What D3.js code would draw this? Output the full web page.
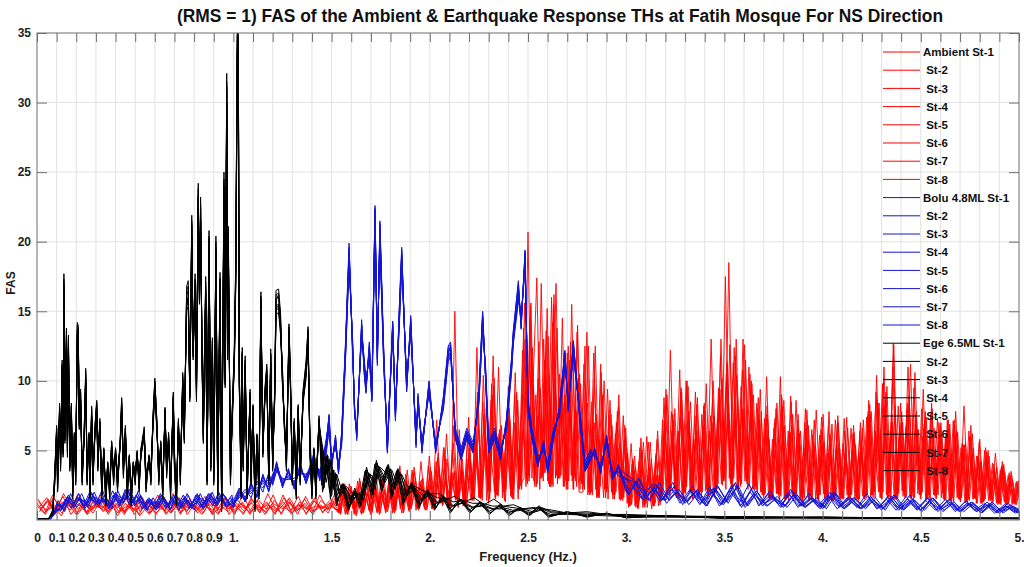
<!DOCTYPE html>
<html>
<head>
<meta charset="utf-8">
<style>
  body { margin: 0; background: #fff; }
  text { font-family: "Liberation Sans", Arial, sans-serif; font-weight: bold; }
  .grid line { stroke: #e2e2e2; stroke-width: 1; }
  .axis line, .axis path { stroke: #6e6e6e; }
  .axis text { fill: #1e1e1e; font-size: 12px; }
</style>
<script src="https://d3js.org/d3.v7.min.js"></script>
</head>
<body>
<svg id="chart" width="1024" height="567"></svg>
<script>
// ---- Ambient (red): 38 values every 0.04 Hz up to 1.48 Hz, then every 0.02 Hz from 1.52 to 5.0 Hz;
// each station is sampled with a small frequency shift
var ambientShift = [0, 0.01, 0.005, 0.015, 0.0025, 0.0125, 0.0075, 0.0175];
var ambient1 = [1.2,0.5,1.8,0.7,1.1,0.4,1.5,0.8,1.3,0.5,1.9,0.6,1.0,0.4,1.4,0.9,1.2,0.5,1.6,0.7,1.1,0.4,1.3,0.8,1.7,0.5,1.0,0.6,1.4,0.4,1.2,0.9,1.5,0.6,1.1,0.5,1.8,0.7,
  2,0.5,1.6,0.4,2.4,0.7,1.8,0.5,3,0.8,2.2,0.6,2.8,0.9,1.9,0.5,3.4,1,2.4,0.7,3.8,0.9,2.6,1.1,3.2,
  1,4.5,1.2,3.2,0.8,5.5,1.4,3.6,1,4.8, 1.5,12.4,1.8,6,1.2,7.5,2,5.2,1.4,9.6,1.8,6.4,
  2.5,3,20.7,3,9,2.2,13,2.8,16,3,10.5,2.4,12,3.2,8,2, 2,13.5,2.4,7,1.8,9,2,6,1.5,8.1,1.6, 4.5,1,3.5,0.8,5,1.2,3.8,1,6.4,
  1.5,8.3,2,5.5,1.6,9.5,2.2,7,1.5,8.3,2,6,1.8,8.7, 2,11.7,3,9,2.4,13,2.8,8,2.2,9.8,2.6,6.5,
  1.6,7.3,1.8,5,1.4,6.5,2,8.5,1.6,5.5,1.5,7.9,2,4.8,1.4,6.3,1.8,5,1.5,7,1.7,4.6,1.4,6.3,2,5.2,
  1.6,8.3,2,6,1.5,8.6,2.2,12.7,1.8,7,1.6,9,2,6.5,1.5,7.2,1.9,5.5,1.6,6.8, 1.5,7.2,1.8,5,1.4,8.2,1.6,4.6,1.5,5.8,1.3,4.2,1.6,4.8,1.2,3.6,1.4,3.5,1.1,2.9];
var ambient2 = [0.9,1.6,0.4,1.3,0.7,1.9,0.5,1.1,0.8,1.5,0.3,1.2,0.6,1.7,0.5,1.0,0.7,1.4,0.4,1.8,0.6,1.2,0.5,1.5,0.8,1.1,0.4,1.6,0.7,1.3,0.5,1.0,0.6,1.7,0.4,1.4,0.8,1.2,
  0.6,1.8,0.4,2.6,0.8,1.5,0.5,2.2,0.7,3.2,0.6,2,0.9,2.6,0.5,3,0.8,2.2,1,3.6,0.7,2.8,1,2.4,0.8,
  3.6,1.2,5.2,0.9,3,1.5,6.5,1,3.8,1.4, 5.8,1.6,8.5,1.4,5,2,11,1.6,6.2,2.2,7,1.5,
  9,2.4,14.5,2.8,7.5,3,12,2.4,15.5,2.6,9,3,11.5,2.2,13.5,2.8, 12.5,2,7.2,1.6,11.2,2.2,5.5,1.8,7,1.4,5.8, 1.2,4,0.9,5.2,1.1,3.2,0.8,4.6,1.3,
  6,1.8,7.8,2.2,6.2,1.5,10,2,7.5,1.7,6.5,2.2,7.5,1.6, 9.5,2.5,10.5,2.8,12.4,2.2,8,3,10.5,2.4,8,2,
  6.8,1.5,5.2,1.9,9,1.4,6,1.8,5.5,1.6,7,1.5,6.1,2,4.5,1.6,6.8,1.4,5.4,1.8,7.3,1.5,5,1.7,6.4,1.6,
  7.5,1.8,6.4,2.1,9.9,1.6,7,2,6,1.7,8,1.5,10.6,2.2,6,1.6,7.6,1.8,5.6,2, 6.2,1.4,7.2,1.7,5.5,1.3,6,1.5,4.6,1.2,5.2,1.6,4,1.3,3.8,1.1,3.4,1.2,2.8,1.3];
var ambient3 = [1.5,0.6,1.0,0.3,1.7,0.8,1.2,0.5,1.4,0.7,1.1,0.4,1.8,0.6,1.3,0.5,1.0,0.8,1.6,0.4,1.2,0.7,1.9,0.5,1.1,0.6,1.3,0.4,1.5,0.8,1.0,0.5,1.6,0.7,1.2,0.4,1.4,0.9,
  1.4,0.4,2.2,0.6,1.6,0.3,2.8,0.7,1.9,0.5,2.4,0.8,3.2,0.6,2,0.9,2.6,0.5,3.6,0.8,2.2,1,3,0.7,2.6,
  0.8,3.8,1,6.2,1.3,3.5,0.9,4.4,1.2,3.2, 1.4,7.8,2,5.5,1.5,9.6,1.8,6.8,1.3,8,2.2,5.4,
  2.4,13,2.8,9.5,17.4,3,11.5,2.6,14.2,3.2,9.5,2.4,12.5,2.8,7.8,2.2, 11.2,1.8,8.5,2.2,5.8,1.6,9.4,2,6.2,1.5,7.5, 1.2,5.5,1,4.2,0.9,6,1.3,3.5,1,
  7.2,1.6,12.2,2.2,6.4,1.8,10,2,5.8,1.5,7.6,2.1,6.4,1.7, 7.3,2.6,17.5,3,11.3,2.4,9.6,2.8,11,2.2,8.4,2,
  7.3,1.6,5.8,1.9,10.3,1.5,6.4,1.8,8.6,1.4,5.2,1.7,6.5,1.5,6.1,1.9,4.8,1.4,7.2,1.6,5.5,1.8,6.6,1.5,4.9,1.7,
  7.4,1.6,5.6,2,9.8,1.8,6.4,1.5,8.2,2.1,6.7,1.6,9.5,1.9,8,1.5,6.2,1.8,7.3,1.6, 5.9,1.4,7.1,1.6,5.2,1.3,6.4,1.5,4.6,1.2,5,1.4,4.1,1.2,3.6,1.3,3.2,1.1,2.7,1.2];
var ambient4 = [0.7,1.4,0.5,1.9,0.8,1.2,0.4,1.6,0.6,1.0,0.9,1.5,0.4,1.3,0.7,1.8,0.5,1.1,0.6,1.4,0.8,1.7,0.4,1.0,0.6,1.5,0.9,1.2,0.5,1.9,0.7,1.3,0.4,1.1,0.8,1.6,0.5,1.3,
  0.5,2.6,0.7,1.8,0.4,2.4,0.8,1.6,0.6,2.9,0.9,2.1,0.5,3.4,0.8,2.4,1,2.8,0.6,3.2,0.9,4.2,1.1,2.6,0.8,
  7.2,1.4,3.8,1,5,1.6,3.4,1.2,4.4,1.5, 5.2,1.6,7.4,2,9.8,1.5,6.5,2.2,8,1.8,10.6,2.4,
  6.5,2.8,15.6,2.4,12.8,3.2,9.4,2.6,11.5,3,14.5,2.2,8.8,3,10.2,2.6, 6.4,1.8,12,2.2,8.8,1.6,5.5,2,7.8,1.5,6, 1,3.6,1.2,5.9,0.9,4,1.1,3.2,1.4,
  7,2,6.2,1.6,7.4,2.4,9.6,1.8,6.5,2.1,8.2,1.5,7,2, 8.4,2.8,11.2,2.4,7.2,3,13,2.6,9,2.2,7.6,1.8,
  10.3,1.6,7,1.8,8.2,1.5,6.3,2,7.6,1.4,6.6,1.7,5.1,1.5,7.4,1.8,5.6,1.4,6.9,1.6,4.8,1.9,6.2,1.5,5.5,1.7,
  8.6,1.8,10.4,1.6,8.2,2.2,7,1.5,6.2,1.9,11,1.7,7.6,2,6.6,1.6,8.4,1.8,6,1.5, 7.2,1.5,6.1,1.7,5,1.4,6.8,1.6,4.4,1.3,4.9,1.5,3.8,1.2,4.2,1.3,3.1,1.2,2.6,1.1];
var ambient5 = [1.0,0.4,1.6,0.9,1.3,0.5,1.1,0.7,1.8,0.4,1.2,0.6,1.5,0.3,1.0,0.8,1.7,0.5,1.3,0.6,1.4,0.9,1.1,0.4,1.6,0.7,1.2,0.5,1.0,0.6,1.8,0.4,1.3,0.7,1.5,0.6,1.1,0.5,
  1.7,0.6,2.5,0.4,1.4,0.8,3,0.5,2,0.7,2.6,0.4,1.8,0.9,3.2,0.6,2.3,0.8,2.9,1,3.5,0.7,2.4,1.2,3.8,
  1.1,4.8,1.3,2.8,1.6,6.8,1,3.9,1.4,5.2, 1.9,9.2,1.6,6.6,2.4,11.8,1.8,5.8,2,7.4,1.5,9.2,
  2.8,15.6,3.2,12.4,2.4,9.5,3.4,13.2,2.6,17,3,12,2.2,15.5,2.8,10.5, 2.5,8.4,2,12.5,1.6,6.2,2.2,7.6,1.8,9,1.4, 5.2,1.2,4.6,0.9,3.6,1.4,5.6,1,4.2,
  2,9.4,1.7,7.2,2.4,9.2,1.9,6.8,2.2,8.8,1.6,7.8,2,10, 2.4,13,3.2,18.5,2.8,10.4,2.4,12.6,3,7.8,2.2,9.4,
  1.8,6.5,1.5,8,1.9,8.6,1.6,6.8,1.4,6.2,2,7.1,1.5,5.4,1.8,7.6,1.4,6,1.7,5.2,1.5,7.4,1.9,5.8,1.4,6.6,
  1.7,7.6,2,8.4,1.5,9.2,1.9,12.6,1.6,7.8,2.2,8.2,1.5,6.4,1.8,7.8,1.6,6.2,1.9,7, 1.4,6.6,1.6,6.4,1.3,5.4,1.5,6.2,1.2,4.2,1.4,5,1.3,3.1,1.2,4,1.1,3.2,1.2,2.4];
var ambient6 = [0.6,1.3,0.8,1.7,0.4,1.1,0.6,1.5,0.9,1.2,0.5,1.6,0.7,1.0,0.4,1.4,0.6,1.9,0.5,1.1,0.7,1.3,0.4,1.7,0.8,1.0,0.5,1.5,0.6,1.2,0.4,1.8,0.7,1.1,0.5,1.4,0.6,1.0,
  0.7,2.2,0.5,1.5,0.8,2.8,0.4,2,0.7,1.7,0.5,3,0.8,2.4,0.6,2.9,0.9,2,0.7,3.4,1.1,2.6,0.8,3.9,1,
  4.2,1.2,5.2,1,3.2,1.4,4,1.1,6,1.6, 7,1.8,10.4,2.2,8.6,1.6,6.2,2,7.5,1.7,9,2.3,
  12.2,3,15.4,2.6,10.2,3.2,13.6,2.4,16.2,3,9.6,2.8,11,2.2,14,2.6, 9.8,2,6.6,1.7,10.6,2.3,7.5,1.5,5.4,1.8,6.8, 0.9,4.4,1.2,3.6,1,5.6,1.3,4.8,1.1,
  8.8,1.9,6.4,2.2,10.8,1.6,7,2,9.2,1.8,6.8,2.4,13,2, 9.2,3,11.4,2.6,8.3,2.2,10.8,2.8,7.4,2.4,8.8,1.8,
  7.6,1.5,6.6,1.9,8.8,1.6,6.3,1.4,7.2,1.8,8,1.5,5.6,1.7,6.5,1.4,7.8,1.9,5.4,1.5,6.4,1.7,5.2,1.6,7,1.5,
  7.8,2,9.2,1.6,11,1.9,7.6,1.5,6.8,2.1,8.4,1.6,7.2,1.8,9.4,1.5,6.4,1.7,7,1.9, 5.8,1.4,6.8,1.5,5.1,1.3,6,1.6,4.4,1.2,4.6,1.4,3.6,1.1,3.9,1.3,3,1.2,2.5,1.3];
var ambient7 = [1.3,0.7,1.1,0.5,1.6,0.4,1.2,0.9,1.0,0.6,1.7,0.5,1.3,0.8,1.1,0.4,1.5,0.6,1.2,0.9,1.0,0.5,1.6,0.7,1.3,0.4,1.9,0.6,1.1,0.5,1.4,0.8,1.2,0.4,1.7,0.6,1.0,0.8,
  1.3,0.5,2.6,0.7,2,0.4,1.6,0.8,2.7,0.6,3.1,0.5,2.2,0.9,2.6,0.7,3.9,0.6,2.4,1,3,0.8,2.2,0.9,3.5,
  1,3.6,1.1,4.4,0.9,15,1.3,3.4,1.1,4.2, 1.6,6.8,1.4,8,2,10.2,1.7,5.5,2.2,7.2,1.5,8.6,
  2.2,11,3,9.6,2.6,17,3.4,10.5,2.4,13.8,3.2,9,2.8,12.6,2.4,9.8, 2.2,12.5,1.8,7.6,2.4,10,1.5,6.8,2,5.6,1.6, 4.8,1.1,3.8,1.4,5.6,0.9,4.4,1.2,3.2,
  1.8,9,2.2,8,1.6,7.2,2.4,8.5,1.7,6.6,2,9.8,1.8,7.5, 2.6,10.2,2.2,12.6,3,8.8,2.6,11.5,2.4,9,2,7.8,
  1.9,5.8,1.5,8.4,1.7,6.8,1.4,7.6,1.9,6.4,1.6,6.8,1.5,7.9,1.8,5.6,1.4,6.9,1.7,5.1,1.5,6.6,1.8,5.4,1.5,7.2,
  1.8,7.8,1.6,8.4,2,9.6,1.5,8.2,1.9,7,1.7,11.2,1.6,6.5,2,7.4,1.5,6.6,1.8,6.2, 1.5,6.9,1.3,6.3,1.6,5.6,1.4,5.2,1.2,4.2,1.5,4.6,1.3,3.8,1.1,3.4,1.2,2.9,1.1,2.6];
var ambient8 = [0.8,1.5,0.5,1.2,0.9,1.7,0.4,1.1,0.7,1.4,0.6,1.0,0.8,1.6,0.5,1.3,0.4,1.2,0.9,1.5,0.5,1.0,0.7,1.8,0.4,1.2,0.6,1.4,0.8,1.1,0.6,1.6,0.5,1.3,0.7,1.0,0.9,1.5,
  0.6,1.9,0.8,2.4,0.5,1.6,0.7,3.1,0.4,2.3,0.9,1.8,0.6,3,0.8,2.1,0.5,3.3,1,2.5,0.8,2.9,0.7,4.6,1.1,
  2.8,1.3,4.6,1,3.4,1.5,5.2,1.2,7.4,1.4, 5.6,1.5,7.6,2.1,9,1.8,6,2.4,8.2,1.6,6.8,2.2,
  13.8,2.6,11.6,3.2,8.5,2.8,15.2,2.4,10.2,3,8.4,2.6,12.8,3.2,9.2,2.2, 7.4,1.9,10.2,1.6,6.4,2.2,8.6,1.8,5.2,1.5,6.6, 1.3,4.2,0.9,4.8,1.2,3.4,1,5.8,1.4,
  6.6,2.2,7.6,1.7,9.2,2,7.8,1.5,6.4,2.3,8.4,1.8,7,2.1, 9.4,2.8,7.6,2.2,11.8,3,6.8,2.6,10,2.4,7.2,2,
  8.2,1.6,7.3,1.9,6.8,1.5,8.9,1.7,6.6,1.4,6,1.8,7.2,1.5,5.4,1.9,6.2,1.4,7.5,1.6,5,1.7,6.8,1.5,5.6,1.8,
  7.2,1.6,8.6,2,6.8,1.5,11,1.9,8.4,1.7,6.6,2.2,7.8,1.6,6.9,1.8,8,1.5,6.4,1.9, 6.4,1.3,7.8,1.5,5.4,1.2,4.6,1.6,5.6,1.3,4.2,1.4,3.4,1.2,3.8,1.1,2.8,1.3,2.3,1.2];
var ambientFreq = d3.range(38).map(function(i) { return i * 0.04; })
  .concat(d3.range(175).map(function(j) { return 1.52 + j * 0.02; }));

// ---- Bolu 4.8ML (blue): shared frequency points; the noisy bands (0.1-1 Hz, 3-5 Hz) use per-station shifts
var boluShiftLow = [0, 0.015, 0.0075, 0.0225, 0.004, 0.019, 0.011, 0.026];
var boluShiftHigh = [0, 0.025, 0.0125, 0.0375, 0.006, 0.031, 0.019, 0.044];
var boluFreq = [0,0.07,0.09,0.1,0.13,0.16,0.19,0.22,0.25,0.28,0.31,0.34,0.37,0.4,0.43,0.46,0.49,0.52,0.55,0.58,0.61,0.64,0.67,0.7,0.73,0.76,0.79,0.82,0.85,0.88,0.91,0.94,0.97,1.0,
  1.03,1.06,1.09,1.12,1.15,1.18,1.2,1.22,1.25,1.28,1.31,1.34,1.37,1.41,1.44,1.47,1.487,1.5,1.52,1.535,1.551,
  1.57,1.589,1.607,1.617,1.628,1.653,1.665,1.675,1.692,1.705,1.721,1.733,1.746,1.765,1.784,1.811,1.825,1.845,1.857,1.882,1.903,1.93,1.94,1.96,1.996,2.03,2.069,2.094,2.106,2.13,2.16,2.188,2.22,2.25,2.269,2.285,2.3,2.33,2.36,2.39,2.417,2.425,2.451,2.465,2.485,2.5,2.52,2.55,2.58,2.6,2.63,2.66,2.688,2.705,2.731,2.765,2.79,2.82,2.84,2.87,2.9,2.93,2.96,
  3.0,3.05,3.1,3.15,3.2,3.25,3.3,3.35,3.4,3.45,3.5,3.55,3.6,3.65,3.7,3.75,3.8,3.85,3.9,3.95,4.0,4.05,4.1,4.15,4.2,4.25,4.3,4.35,4.4,4.45,4.5,4.55,4.6,4.65,4.7,4.75,4.8,4.85,4.9,4.95,5.0];
var bolu1 = [0.1,0.1,0.6,1.2,0.8,1.8,1.0,1.6,1.1,1.9,1.2,1.5,0.9,2.0,1.3,2.3,1.2,1.6,0.8,1.5,1.0,1.4,0.9,1.7,1.0,1.5,0.8,1.8,1.1,1.9,1.2,1.7,1.3,1.0,
  2.0,1.4,2.5,1.8,3.1,2.2,3.0,4.0,2.6,3.4,2.4,3.8,2.8,4.6,3.0,5.2,7.4,4.0,5.8,3.5,6.0,
  12,19.4,12.2,8,6.0,14.0,11,9.4,12.4,9,22.3,11.5,21.1,12,5.0,14.0,7.4,15,19.2,9.5,14.3,5.5,8.8,5,9.7,5,8.6,12.2,12.5,6,4.5,6,5,9,14.7,10,5,6,4.5,7,11.5,13.3,16.8,14,19.1,8,6,4,5.5,3.5,6,8,11.9,8,12.6,7.2,3.6,4.5,5.0,3.5,5.9,3,3.8,
  2.0,2.8,1.5,2.6,1.4,2.2,1.2,2.0,1.1,2.3,1.2,2.6,1.0,1.9,1.1,1.7,0.9,1.8,1.0,1.6,0.8,1.9,0.9,1.5,0.8,1.6,0.7,1.7,0.8,1.4,0.7,1.5,0.7,1.3,0.6,1.2,0.6,1.2,0.5,1.0,0.6];
var bolu2 = [0.1,0.1,0.5,0.8,1.5,0.9,1.7,1.0,1.9,1.1,1.6,1.0,2.1,1.2,1.9,1.0,1.8,0.8,1.5,0.9,1.7,0.8,1.6,1.0,1.8,0.8,1.5,0.9,1.7,1.0,2.0,1.1,1.6,1.2,
  1.7,2.2,1.6,2.8,2.0,3.4,2.5,3.6,2.9,3.1,2.7,3.5,3.2,4.2,3.4,4.8,6.8,4.4,5.4,3.9,5.6,
  11.4,18.6,12.8,7.6,6.4,13.5,11.4,9.8,12.0,8.6,21.6,12.0,20.4,11.5,5.4,13.6,7.8,14.4,18.6,9.9,13.8,5.9,8.4,5.4,9.3,5.3,8.2,11.8,12.1,6.3,4.9,6.3,5.3,8.6,14.2,10.4,5.3,6.3,4.8,6.7,11.1,12.9,16.2,14.4,18.5,8.4,6.3,4.3,5.2,3.8,6.3,7.7,11.4,8.3,12.1,7.5,3.9,4.8,4.7,3.8,5.6,3.3,3.5,
  2.6,1.6,2.4,1.3,2.5,1.2,2.2,1.1,2.4,1.0,2.1,1.2,2.6,1.0,1.9,1.1,2.0,0.9,1.7,1.0,1.8,0.8,1.6,0.9,1.9,0.8,1.5,0.7,1.7,0.8,1.4,0.7,1.5,0.6,1.3,0.7,1.2,0.5,1.1,0.6,0.9];
var bolu3 = [0.1,0.1,0.7,1.4,0.7,1.5,1.1,1.9,0.9,1.7,1.4,1.3,1.0,1.8,1.5,2.0,1.0,1.8,0.7,1.3,1.2,1.6,0.7,1.9,0.9,1.3,1.0,1.6,1.3,1.7,1.0,1.9,1.1,1.2,
  2.2,1.6,2.3,2.0,2.8,2.4,3.3,3.7,2.4,3.7,2.2,4.1,2.6,4.3,3.3,5.6,7.0,3.7,6.1,3.3,6.3,
  12.5,19.9,11.8,8.3,5.7,14.4,10.6,9.1,12.8,9.3,22.0,11.1,21.5,12.4,4.8,14.3,7.1,15.4,19.6,9.2,14.7,5.2,9.1,4.8,10.0,4.8,8.9,12.5,12.8,5.8,4.3,5.8,4.8,9.3,15.0,9.7,4.8,5.8,4.3,7.3,11.8,13.6,17.2,13.7,19.4,7.8,5.8,3.8,5.7,3.4,5.8,8.2,12.2,7.8,12.9,7.0,3.5,4.3,5.2,3.3,6.1,2.9,4.0,
  1.8,3.0,1.4,2.4,1.5,2.0,1.3,2.2,1.0,2.5,1.3,2.4,1.1,2.1,1.0,1.5,1.0,2.0,0.9,1.5,0.9,2.0,0.8,1.6,0.9,1.4,0.8,1.8,0.7,1.5,0.8,1.6,0.6,1.2,0.7,1.3,0.5,1.3,0.6,0.9,0.7];
var bolu4 = [0.1,0.1,0.6,0.7,1.6,1.0,1.9,0.8,1.5,1.2,2.2,0.9,1.7,1.1,2.0,1.3,1.9,0.9,1.4,0.8,1.8,1.0,1.5,0.7,1.7,1.1,1.6,0.9,1.9,1.0,1.5,1.2,1.8,1.0,
  1.9,1.5,2.7,1.6,3.3,2.0,3.2,3.8,2.8,3.2,2.6,3.6,3.0,4.8,2.8,5.0,7.6,4.2,5.6,3.7,6.2,
  12.3,19.0,12.5,7.8,6.2,13.8,11.2,9.6,12.2,8.8,22.6,11.7,20.8,12.2,5.2,14.2,7.6,14.7,19.0,9.7,14.1,5.7,8.6,5.2,9.5,5.1,8.4,12.0,12.3,6.2,4.7,6.2,5.2,8.8,14.5,10.2,5.2,6.2,4.6,6.9,11.3,13.1,16.5,14.2,18.8,8.2,6.2,4.2,5.4,3.7,6.2,7.9,11.7,8.2,12.4,7.4,3.8,4.6,4.9,3.6,5.8,3.1,3.7,
  2.9,1.4,2.2,1.5,2.7,1.1,2.4,1.3,2.0,1.1,2.5,0.9,2.2,1.2,1.8,0.9,2.2,1.0,1.6,0.8,2.0,0.9,1.7,0.8,1.5,0.9,1.8,0.7,1.4,0.8,1.6,0.6,1.4,0.7,1.2,0.6,1.3,0.5,1.0,0.6,0.8];
var bolu5 = [0.1,0.1,0.4,1.1,0.9,1.6,1.3,1.5,1.2,1.7,1.0,1.8,1.1,1.5,1.2,1.9,1.3,1.4,1.1,1.3,0.8,1.7,1.0,1.4,0.8,1.9,1.1,1.3,0.9,1.8,1.3,1.5,1.0,1.4,
  2.3,1.3,2.4,2.1,2.9,2.6,2.8,4.2,2.3,3.6,2.5,3.9,2.7,4.4,3.2,5.4,7.2,3.8,6.0,3.4,5.8,
  11.8,19.6,12.0,8.1,5.9,14.1,10.8,9.2,12.6,9.1,22.1,11.3,21.3,11.8,4.9,14.1,7.3,15.2,19.4,9.3,14.5,5.4,8.9,5.0,9.9,4.9,8.7,12.4,12.6,5.9,4.4,5.9,4.9,9.1,14.9,9.8,4.9,5.9,4.4,7.1,11.6,13.5,17.0,13.8,19.3,7.9,5.9,3.9,5.6,3.4,5.9,8.1,12.1,7.9,12.8,7.1,3.5,4.4,5.1,3.4,6.0,2.9,3.9,
  1.9,2.7,1.7,2.5,1.2,2.1,1.3,2.1,1.0,2.2,1.3,2.7,0.9,1.8,1.2,1.6,1.0,1.9,0.9,1.5,0.9,2.0,0.8,1.6,0.9,1.5,0.8,1.6,0.7,1.5,0.6,1.6,0.8,1.2,0.6,1.3,0.5,1.2,0.6,1.1,0.6];
var bolu6 = [0.1,0.1,0.6,0.9,1.4,1.1,1.6,0.9,1.8,1.2,1.5,1.1,1.8,1.0,2.2,1.2,1.7,1.0,1.6,1.0,1.9,0.9,1.4,1.1,1.6,0.9,1.8,1.0,1.5,1.2,1.9,1.0,1.4,1.1,
  1.8,1.7,2.1,2.3,2.6,2.9,2.7,3.9,2.7,3.0,2.8,3.4,3.1,4.1,3.5,4.6,6.6,4.5,5.2,4.0,5.5,
  11.6,18.9,12.6,7.7,6.3,13.4,11.6,9.9,11.9,8.7,21.4,12.2,20.2,11.4,5.5,13.4,7.9,14.2,18.4,10.1,13.6,6.0,8.3,5.5,9.2,5.4,8.1,11.6,12.0,6.4,5.0,6.4,5.4,8.5,14.0,10.6,5.4,6.4,4.9,6.6,10.9,12.8,16.0,14.6,18.3,8.5,6.4,4.4,5.1,3.9,6.4,7.6,11.3,8.4,11.9,7.6,4.0,4.9,4.6,3.9,5.5,3.4,3.4,
  2.5,1.5,2.6,1.4,2.2,1.3,2.0,1.2,2.2,1.1,2.3,1.0,2.0,1.1,2.1,1.0,1.8,1.0,1.9,0.9,1.7,1.0,1.5,0.9,1.7,0.8,1.6,0.8,1.5,0.7,1.6,0.7,1.3,0.7,1.4,0.6,1.1,0.6,1.0,0.5,0.8];
var bolu7 = [0.1,0.1,0.5,1.2,0.6,1.9,0.9,1.4,1.0,2.0,1.1,1.6,0.8,2.1,1.2,2.2,1.1,1.7,0.7,1.6,0.9,1.5,0.8,1.6,1.1,1.4,0.7,1.9,1.0,2.0,1.1,1.8,1.2,0.9,
  2.1,1.3,2.6,1.7,3.2,2.1,3.1,4.1,2.5,3.5,2.3,3.9,2.7,4.7,2.9,5.3,7.5,3.9,5.9,3.4,6.1,
  12.2,19.2,12.3,7.9,6.1,13.9,11.1,9.5,12.3,8.9,22.4,11.6,20.9,12.1,5.1,13.9,7.5,14.9,19.1,9.6,14.2,5.6,8.7,5.1,9.6,5.0,8.5,12.1,12.4,6.1,4.6,6.1,5.1,8.9,14.6,10.1,5.1,6.1,4.5,7.0,11.4,13.2,16.6,14.1,18.9,8.1,6.1,4.1,5.5,3.6,6.1,8.0,11.8,8.1,12.5,7.3,3.7,4.5,5.0,3.5,5.8,3.0,3.8,
  2.0,2.9,1.4,2.7,1.4,2.2,1.1,2.0,1.2,2.4,1.2,2.5,1.0,2.0,1.0,1.7,0.9,1.8,1.0,1.6,0.8,1.9,0.9,1.5,0.8,1.6,0.7,1.8,0.8,1.4,0.7,1.5,0.7,1.3,0.6,1.2,0.6,1.2,0.5,1.0,0.6];
var bolu8 = [0.1,0.1,0.7,0.8,1.7,0.9,1.5,1.0,2.0,1.1,1.6,0.8,1.9,1.3,1.7,1.0,2.1,1.1,1.5,0.7,1.6,1.0,1.8,0.9,1.5,1.0,1.9,0.8,1.6,1.2,1.8,0.9,1.6,1.1,
  1.6,2.0,1.9,2.6,2.3,3.2,2.6,3.5,3.0,2.9,3.0,3.3,3.3,4.0,3.6,4.5,6.5,4.6,5.1,4.2,5.3,
  11.2,18.3,13.0,7.5,6.6,13.2,11.8,10.1,11.7,8.5,21.1,12.4,19.9,11.2,5.7,13.2,8.1,14.0,18.1,10.3,13.4,6.2,8.1,5.7,9.0,5.6,7.9,11.4,11.8,6.6,5.2,6.6,5.6,8.3,13.8,10.8,5.6,6.6,5.1,6.4,10.7,12.6,15.7,14.8,18.0,8.7,6.6,4.6,4.9,4.1,6.6,7.4,11.0,8.6,11.6,7.8,4.2,5.1,4.4,4.1,5.3,3.6,3.2,
  2.7,1.7,2.3,1.4,2.4,1.3,1.9,1.2,2.3,1.1,2.0,1.2,2.4,1.0,1.8,1.1,2.1,1.0,1.6,0.9,1.9,1.0,1.6,0.8,1.7,0.9,1.5,0.8,1.8,0.7,1.3,0.8,1.5,0.6,1.2,0.7,1.1,0.6,1.2,0.5,0.9];

// ---- Ege 6.5ML (black): shared frequency points; the noisy 1.45-2.6 Hz band uses per-station shifts
var egeShift = [0, 0.015, 0.008, 0.022, 0.004, 0.019, 0.011, 0.026];
var egeFreq = [0,0.06,0.08,0.09,0.1,0.105,0.115,0.12,0.128,0.133,0.137,0.142,0.15,0.155,0.16,0.167,0.175,0.182,0.19,0.197,
  0.205,0.21,0.215,0.222,0.23,0.24,0.248,0.255,0.265,0.27,0.278,0.285,0.295,0.304,0.31,0.32,0.33,0.34,0.35,0.36,
  0.37,0.38,0.39,0.4,0.41,0.425,0.431,0.44,0.45,0.46,0.47,0.48,0.49,0.5,0.51,0.52,0.53,0.546,0.555,0.57,
  0.58,0.59,0.6,0.61,0.62,0.63,0.64,0.652,0.66,0.67,0.68,0.694,0.7,0.71,0.72,0.73,0.742,0.75,0.762,0.77,
  0.778,0.788,0.795,0.805,0.812,0.821,0.827,0.833,0.84,0.847,0.853,0.859,0.866,0.876,0.885,0.893,0.9,0.911,0.92,0.932,
  0.94,0.952,0.958,0.966,0.97,0.974,0.985,0.995,1.005,1.012,1.02,1.025,1.03,1.04,1.045,1.05,1.06,1.07,1.085,1.09,
  1.1,1.11,1.12,1.13,1.14,1.15,1.16,1.17,1.18,1.19,1.2,1.21,1.217,1.23,1.24,1.25,1.26,1.27,1.283,1.29,
  1.3,1.31,1.32,1.33,1.34,1.355,1.37,1.38,1.39,1.4,1.41,1.42,1.436,1.45,1.47,1.49,1.5,1.52,1.55,1.58,
  1.61,1.64,1.67,1.7,1.72,1.75,1.78,1.8,1.83,1.86,1.9,1.94,1.98,2.02,2.06,2.1,2.15,2.2,2.25,2.3,
  2.35,2.4,2.45,2.5,2.55,2.6,2.7,2.8,2.9,3.0,3.2,3.5,4.0,4.5,5.0];
var ege1 = [0.1,0.1,0.6,3,6.5,2.5,8,4,11,5, 17,6,13.3,5,12.8,4,8,2,6,3, 13.7,13.5,7,9,3,6,10.5,3,6,2, 7.9,3,6.5,8.3,4,7,2,5,1.5,4,
  2,5.5,3,5,2.5,6,8.5,3.5,6.5,2, 4.5,1.5,4,3,4.8,2.5,5,6.4,2.5,4.5, 3,7,9.8,7,3,5.5,2,7.8,3.5,6, 2,8.8,4,1.5,7,3,10.2,6,16.2,16.5,
  9,21.1,12,17,9,23.3,16,22.3,12,6, 12,16.8,3,20,4,12.6,3,19.6,2,17.1, 1,24,10,30.9,12,20.3,3,8,12,18, 34.8,33.8,10,2,11.9,4,11.3,2,9,3,
  8,1,6,2,15.8,5,9,10.8,3,11.8, 4,9,15.9,16,14.3,10,6.9,4,13.6,10.4, 3,7,2,8,3,9,11,13.4,5,2, 5,2,7.2,2.5,4.5,2,3.5,1.5,2.5,1,
  2,1.2,3.5,2,4,2.5,3.8,2,3.5,1.5, 2.5,1.2,2,1,1.6,0.8,1.4,0.7,1.2,0.6, 1,0.5,0.8,0.4,0.9,0.3,0.5,0.3,0.4,0.2, 0.25,0.15,0.15,0.1,0.1];
var ege2 = [0.1,0.1,0.5,2.6,6.0,2.8,7.5,4.4,10.4,5.4, 16.2,6.4,12.8,5.4,12.2,4.4,7.6,2.4,5.6,3.4, 13.1,12.9,7.4,8.6,3.4,5.6,10.0,3.4,5.6,2.4, 7.5,3.4,6.1,7.9,4.4,6.6,2.4,4.6,1.9,3.6,
  2.4,5.1,3.4,4.6,2.9,5.6,8.1,3.9,6.1,2.4, 4.1,1.9,3.6,3.4,4.4,2.9,4.6,6.0,2.9,4.1, 3.4,6.6,9.3,6.6,3.4,5.1,2.4,7.4,3.9,5.6, 2.4,8.4,4.4,1.9,6.6,3.4,9.7,6.4,15.5,15.9,
  9.4,20.4,12.4,16.4,9.4,22.6,16.4,21.6,12.4,6.4, 11.5,16.2,3.4,19.3,4.4,12.1,3.4,18.9,2.4,16.5, 1.4,23.2,10.4,30.0,12.4,19.6,3.4,7.6,11.5,17.4, 33.8,32.9,10.4,2.4,11.4,4.4,10.8,2.4,8.6,3.4,
  7.6,1.4,5.6,2.4,15.1,5.4,8.6,10.3,3.4,11.3, 4.4,8.6,15.2,15.4,13.8,10.4,6.5,4.4,13.0,9.9, 3.4,6.6,2.4,7.6,3.4,8.6,10.5,12.8,5.4,2.4, 4.6,2.4,6.8,2.9,4.1,2.4,3.1,1.9,2.1,1.4,
  1.7,1.5,3.1,2.3,3.6,2.8,3.4,2.3,3.1,1.8, 2.2,1.4,1.8,1.2,1.4,1.0,1.2,0.9,1.0,0.8, 0.8,0.6,0.7,0.5,0.7,0.4,0.4,0.35,0.3,0.25, 0.2,0.2,0.15,0.15,0.1];
var ege3 = [0.1,0.1,0.7,3.3,6.8,2.2,8.4,3.7,11.5,4.7, 17.7,5.7,13.8,4.7,13.3,3.7,8.4,1.7,6.3,2.7, 14.2,14.0,6.7,9.4,2.7,6.3,10.9,2.7,6.3,1.7, 8.2,2.7,6.8,8.6,3.7,7.3,1.7,5.2,1.2,4.2,
  1.7,5.7,2.7,5.2,2.2,6.3,8.8,3.2,6.8,1.7, 4.7,1.2,4.2,2.7,5.0,2.2,5.2,6.7,2.2,4.7, 2.7,7.3,10.2,7.3,2.7,5.7,1.7,8.1,3.2,6.3, 1.7,9.2,3.7,1.2,7.3,2.7,10.6,5.7,16.8,17.2,
  8.7,21.9,11.7,17.7,8.7,24.2,15.7,23.2,11.7,5.7, 12.5,17.5,2.7,20.8,3.7,13.1,2.7,20.4,1.7,17.8, 0.8,25.0,9.7,32.1,11.7,21.1,2.7,8.3,12.5,18.7, 35.2,34.9,9.7,1.7,12.4,3.7,11.8,1.7,9.4,2.7,
  8.3,0.8,6.2,1.7,16.4,4.7,9.4,11.2,2.7,12.3, 3.7,9.4,16.5,16.6,14.9,9.7,7.2,3.7,14.1,10.8, 2.7,7.3,1.7,8.3,2.7,9.4,11.4,13.9,4.7,1.7, 5.2,1.7,7.5,2.2,4.7,1.7,3.6,1.2,2.6,0.8,
  2.3,1.0,3.8,1.8,4.3,2.2,4.0,1.7,3.7,1.3, 2.7,1.0,2.2,0.8,1.8,0.6,1.5,0.6,1.3,0.5, 1.1,0.4,0.9,0.35,1.0,0.3,0.6,0.25,0.45,0.2, 0.3,0.15,0.2,0.1,0.1];
var ege4 = [0.1,0.1,0.6,2.8,6.0,2.7,7.4,4.2,10.2,5.2, 15.8,6.2,12.4,5.2,11.9,4.2,7.4,2.2,5.6,3.2, 12.7,12.6,7.2,8.4,3.2,5.6,9.8,3.2,5.6,2.2, 7.3,3.2,6.0,7.7,4.2,6.5,2.2,4.7,1.7,3.7,
  2.2,5.1,3.2,4.7,2.7,5.6,7.9,3.7,6.0,2.2, 4.2,1.7,3.7,3.2,4.5,2.7,4.7,6.0,2.7,4.2, 3.2,6.5,9.1,6.5,3.2,5.1,2.2,7.3,3.7,5.6, 2.2,8.2,4.2,1.7,6.5,3.2,9.5,6.2,15.1,15.3,
  9.2,19.6,12.2,15.8,9.2,21.7,16.2,20.7,12.2,6.2, 11.2,15.6,3.2,18.6,4.2,11.7,3.2,18.2,2.2,15.9, 1.2,22.3,10.2,28.7,12.2,18.9,3.2,7.4,11.2,16.7, 32.4,31.4,10.2,2.2,11.1,4.2,10.5,2.2,8.4,3.2,
  7.4,1.2,5.6,2.2,14.7,5.2,8.4,10.0,3.2,11.0, 4.2,8.4,14.8,14.9,13.3,10.2,6.4,4.2,12.6,9.7, 3.2,6.5,2.2,7.4,3.2,8.4,10.2,12.5,5.2,2.2, 4.7,2.2,6.7,2.7,4.2,2.2,3.3,1.7,2.3,1.2,
  1.9,1.4,3.3,2.2,3.7,2.7,3.5,2.2,3.3,1.7, 2.3,1.4,1.9,1.2,1.5,1.0,1.3,0.9,1.1,0.8, 0.9,0.7,0.8,0.6,0.8,0.5,0.5,0.4,0.4,0.3, 0.3,0.2,0.2,0.15,0.15];
var ege5 = [0.1,0.1,0.4,3.2,6.6,2.0,8.2,3.5,11.2,4.5, 17.3,5.5,13.6,4.5,13.1,3.5,8.2,1.5,6.1,2.5, 14.0,13.8,6.5,9.2,2.5,6.1,10.7,2.5,6.1,1.5, 8.1,2.5,6.6,8.5,3.5,7.1,1.5,5.1,1.0,4.1,
  1.5,5.6,2.5,5.1,2.0,6.1,8.7,3.0,6.6,1.5, 4.6,1.0,4.1,2.5,4.9,2.0,5.1,6.5,2.0,4.6, 2.5,7.1,10.0,7.1,2.5,5.6,1.5,8.0,3.0,6.1, 1.5,9.0,3.5,1.0,7.1,2.5,10.4,5.5,16.5,16.8,
  8.5,21.5,11.5,17.3,8.5,23.8,15.5,22.7,11.5,5.5, 12.2,17.1,2.5,20.4,3.5,12.9,2.5,20.0,1.5,17.4, 0.6,24.5,9.5,31.5,11.5,20.7,2.5,8.2,12.2,18.4, 35.5,34.5,9.5,1.5,12.1,3.5,11.5,1.5,9.2,2.5,
  8.2,0.6,6.1,1.5,16.1,4.5,9.2,11.0,2.5,12.0, 3.5,9.2,16.2,16.3,14.6,9.5,7.0,3.5,13.9,10.6, 2.5,7.1,1.5,8.2,2.5,9.2,11.2,13.7,4.5,1.5, 5.1,1.5,7.3,2.0,4.6,1.5,3.6,1.0,2.6,0.7,
  2.1,0.9,3.6,1.6,4.1,2.0,3.9,1.5,3.6,1.1, 2.6,0.9,2.1,0.7,1.7,0.5,1.5,0.5,1.3,0.4, 1.1,0.3,0.9,0.3,1.0,0.2,0.6,0.2,0.5,0.15, 0.3,0.1,0.2,0.1,0.1];
var ege6 = [0.1,0.1,0.6,2.7,6.3,3.1,7.8,4.6,10.7,5.6, 16.5,6.6,12.9,5.6,12.4,4.6,7.8,2.6,5.8,3.6, 13.3,13.1,7.6,8.7,3.6,5.8,10.2,3.6,5.8,2.6, 7.7,3.6,6.3,8.1,4.6,6.8,2.6,4.9,2.1,3.9,
  2.6,5.3,3.6,4.9,3.1,5.8,8.2,4.1,6.3,2.6, 4.4,2.1,3.9,3.6,4.7,3.1,4.9,6.2,3.1,4.4, 3.6,6.8,9.5,6.8,3.6,5.3,2.6,7.6,4.1,5.8, 2.6,8.5,4.6,2.1,6.8,3.6,9.9,6.6,15.7,16.0,
  9.6,20.5,12.6,16.5,9.6,22.6,16.6,21.6,12.6,6.6, 11.6,16.3,3.6,19.4,4.6,12.2,3.6,19.0,2.6,16.6, 1.6,23.3,10.6,30.0,12.6,19.7,3.6,7.8,11.6,17.5, 33.8,32.8,10.6,2.6,11.5,4.6,11.0,2.6,8.7,3.6,
  7.8,1.6,5.8,2.6,15.3,5.6,8.7,10.5,3.6,11.4, 4.6,8.7,15.4,15.5,13.9,10.6,6.7,4.6,13.2,10.1, 3.6,6.8,2.6,7.8,3.6,8.7,10.7,13.0,5.6,2.6, 4.9,2.6,7.0,3.1,4.4,2.6,3.4,2.1,2.4,1.6,
  1.9,1.8,3.4,2.6,3.9,3.1,3.7,2.6,3.4,2.1, 2.4,1.8,1.9,1.6,1.6,1.3,1.4,1.2,1.2,1.0, 1.0,0.9,0.8,0.8,0.9,0.6,0.5,0.5,0.4,0.35, 0.25,0.25,0.15,0.15,0.1];
var ege7 = [0.1,0.1,0.5,3.1,6.6,2.3,8.1,3.8,11.1,4.8, 16.8,5.8,13.5,4.8,12.6,3.8,8.2,1.8,6.2,2.8, 13.5,13.7,6.8,9.1,2.8,6.2,10.3,2.8,6.2,1.8, 8.0,2.8,6.4,8.4,3.8,7.1,1.8,5.1,1.3,4.1,
  1.8,5.6,2.8,5.1,2.3,6.1,8.4,3.3,6.6,1.8, 4.6,1.3,4.1,2.8,4.9,2.3,5.1,6.3,2.3,4.6, 2.8,7.1,9.9,7.1,2.8,5.6,1.8,7.9,3.3,6.1, 1.8,8.9,3.8,1.3,7.1,2.8,10.1,5.8,16.4,16.3,
  8.8,21.3,11.8,16.8,8.8,23.1,15.8,22.5,11.8,5.8, 12.1,16.6,2.8,20.2,3.8,12.8,2.8,19.4,1.8,17.3, 0.9,23.8,9.8,31.2,11.8,20.1,2.8,8.1,12.1,17.8, 34.5,34.1,9.8,1.8,12.0,3.8,11.2,1.8,9.1,2.8,
  8.1,0.9,6.1,1.8,15.9,4.8,9.1,10.7,2.8,11.9, 3.8,9.1,15.8,16.2,14.2,9.8,7.0,3.8,13.7,10.3, 2.8,7.1,1.8,8.1,2.8,9.1,10.9,13.5,4.8,1.8, 5.1,1.8,7.1,2.3,4.6,1.8,3.6,1.3,2.6,0.9,
  2.1,1.1,3.6,1.8,4.1,2.3,3.9,1.8,3.6,1.4, 2.6,1.1,2.1,0.9,1.7,0.7,1.5,0.6,1.3,0.5, 1.1,0.4,0.9,0.35,0.9,0.25,0.55,0.25,0.45,0.2, 0.3,0.15,0.15,0.1,0.1];
var ege8 = [0.1,0.1,0.7,2.5,6.2,3.4,7.6,4.9,10.5,5.9, 16.2,6.9,12.6,5.9,12.2,4.9,7.6,2.9,5.7,3.9, 13.0,12.8,7.9,8.6,3.9,5.7,10.0,3.9,5.7,2.9, 7.5,3.9,6.2,7.9,4.9,6.7,2.9,4.8,2.4,3.8,
  2.9,5.2,3.9,4.8,3.4,5.7,8.1,4.4,6.2,2.9, 4.3,2.4,3.8,3.9,4.6,3.4,4.8,6.1,3.4,4.3, 3.9,6.7,9.3,6.7,3.9,5.2,2.9,7.4,4.4,5.7, 2.9,8.4,4.9,2.4,6.7,3.9,9.7,6.9,15.4,15.7,
  9.9,20.0,12.9,16.2,9.9,22.1,16.9,21.2,12.9,6.9, 11.4,16.0,3.9,19.0,4.9,12.0,3.9,18.6,2.9,16.2, 1.9,22.8,10.9,29.4,12.9,19.3,3.9,7.6,11.4,17.1, 33.1,32.1,10.9,2.9,11.3,4.9,10.7,2.9,8.6,3.9,
  7.6,1.9,5.7,2.9,15.0,5.9,8.6,10.3,3.9,11.2, 4.9,8.6,15.1,15.2,13.6,10.9,6.6,4.9,12.9,9.9, 3.9,6.7,2.9,7.6,3.9,8.6,10.5,12.7,5.9,2.9, 4.8,2.9,6.8,3.4,4.3,2.9,3.3,2.4,2.4,1.9,
  1.9,2.1,3.3,2.9,3.8,3.4,3.6,2.9,3.3,2.4, 2.4,2.1,1.9,1.9,1.5,1.7,1.3,1.6,1.1,1.5, 1.0,1.1,0.8,0.9,0.8,0.7,0.5,0.6,0.4,0.4, 0.3,0.25,0.2,0.15,0.15];

// ---- labels and ticks
var titleText = "(RMS = 1) FAS of the Ambient & Earthquake Response THs at Fatih Mosque For NS Direction";
var legendLabels = ["Ambient St-1", " St-2", " St-3", " St-4", " St-5", " St-6", " St-7", " St-8",
  "Bolu 4.8ML St-1", " St-2", " St-3", " St-4", " St-5", " St-6", " St-7", " St-8",
  "Ege 6.5ML St-1", " St-2", " St-3", " St-4", " St-5", " St-6", " St-7", " St-8"];
var yTicks = [0, 5, 10, 15, 20, 25, 30, 35];
var xLabelValues = [0, 0.1, 0.2, 0.3, 0.4, 0.5, 0.6, 0.7, 0.8, 0.9, 1, 1.5, 2, 2.5, 3, 3.5, 4, 4.5, 5];
var xLabelText = ["0", "0.1", "0.2", "0.3", "0.4", "0.5", "0.6", "0.7", "0.8", "0.9", "1.", "1.5", "2.", "2.5", "3.", "3.5", "4.", "4.5", "5."];

var colors = { ambient: "#ff0000", bolu: "#1414d2", ege: "#000000" };

// ---- build series
var series = [];
[ambient1, ambient2, ambient3, ambient4, ambient5, ambient6, ambient7, ambient8].forEach(function(vals, k) {
  series.push({ group: "ambient", pts: vals.map(function(v, i) { return [ambientFreq[i] + ambientShift[k], v]; }) });
});
[bolu1, bolu2, bolu3, bolu4, bolu5, bolu6, bolu7, bolu8].forEach(function(vals, k) {
  series.push({ group: "bolu", pts: vals.map(function(v, i) {
    var f = boluFreq[i];
    if (f > 0.09 && f < 1.0) f += boluShiftLow[k];
    else if (f >= 3.0) f += boluShiftHigh[k];
    return [f, v];
  }) });
});
[ege1, ege2, ege3, ege4, ege5, ege6, ege7, ege8].forEach(function(vals, k) {
  series.push({ group: "ege", pts: vals.map(function(v, i) {
    var f = egeFreq[i];
    if (f >= 1.45 && f <= 2.6) f += egeShift[k];
    return [f, v];
  }) });
});

var x = d3.scaleLinear().domain([0, 5]).range([37, 1019]);
var y = d3.scaleLinear().domain([0, 35]).range([520, 33]);

var svg = d3.select("#chart");
svg.append("rect").attr("width", 1024).attr("height", 567).attr("fill", "#fff");

// grid
var xTickValues = d3.range(0, 51).map(function(i) { return i / 10; });
var grid = svg.append("g").attr("class", "grid");
grid.selectAll("line.v").data(xTickValues.slice(1, 50)).enter().append("line")
  .attr("x1", function(d) { return x(d); }).attr("x2", function(d) { return x(d); })
  .attr("y1", y(0)).attr("y2", y(35));
grid.selectAll("line.h").data(yTicks.slice(1, 7)).enter().append("line")
  .attr("x1", x(0)).attr("x2", x(5))
  .attr("y1", function(d) { return y(d); }).attr("y2", function(d) { return y(d); });

// data lines
svg.append("clipPath").attr("id", "plotClip").append("rect")
  .attr("x", x(0)).attr("y", y(35)).attr("width", x(5) - x(0)).attr("height", y(0) - y(35));
var line = d3.line().x(function(d) { return x(d[0]); }).y(function(d) { return y(d[1]); });
svg.append("g").attr("clip-path", "url(#plotClip)")
  .selectAll("path").data(series).enter().append("path")
  .attr("d", function(d) { return line(d.pts); })
  .attr("fill", "none")
  .attr("stroke", function(d) { return colors[d.group]; })
  .attr("stroke-width", function(d) { return d.group === "ambient" ? 0.9 : 1; })
  .attr("stroke-linejoin", "round");

// axes
var labelFor = function(d) {
  var i = xLabelValues.findIndex(function(v) { return Math.abs(v - d) < 1e-6; });
  return i < 0 ? "" : xLabelText[i];
};
svg.append("g").attr("class", "axis").attr("transform", "translate(0," + y(0) + ")")
  .call(d3.axisBottom(x).tickValues(xTickValues).tickFormat(labelFor).tickSize(-9).tickSizeOuter(0).tickPadding(13))
  .call(function(g) { g.select(".domain").remove(); });
svg.append("g").attr("class", "axis").attr("transform", "translate(0," + y(35) + ")")
  .call(d3.axisTop(x).tickValues(xTickValues).tickFormat("").tickSize(-9).tickSizeOuter(0))
  .call(function(g) { g.select(".domain").remove(); });
svg.append("g").attr("class", "axis").attr("transform", "translate(" + x(0) + ",0)")
  .call(d3.axisLeft(y).tickValues(yTicks.slice(1)).tickSize(-10).tickSizeOuter(0).tickPadding(6))
  .call(function(g) { g.select(".domain").remove(); });
svg.append("g").attr("class", "axis").attr("transform", "translate(" + x(5) + ",0)")
  .call(d3.axisRight(y).tickValues(yTicks.slice(1)).tickFormat("").tickSize(-10).tickSizeOuter(0))
  .call(function(g) { g.select(".domain").remove(); });
svg.append("rect").attr("x", x(0)).attr("y", y(35)).attr("width", x(5) - x(0)).attr("height", y(0) - y(35))
  .attr("fill", "none").attr("stroke", "#6e6e6e").attr("stroke-width", 1);

// titles
svg.append("text").attr("x", 177).attr("y", 22).attr("font-size", 17.5)
  .attr("textLength", 766).attr("lengthAdjust", "spacingAndGlyphs")
  .attr("fill", "#111").text(titleText);
svg.append("text").attr("x", 528).attr("y", 561).attr("text-anchor", "middle")
  .attr("font-size", 13).attr("fill", "#1e1e1e").text("Frequency (Hz.)");
svg.append("text").attr("transform", "translate(15,283) rotate(-90)").attr("text-anchor", "middle")
  .attr("font-size", 12).attr("fill", "#1e1e1e").text("FAS");

// legend
var legendGroups = ["ambient", "ambient", "ambient", "ambient", "ambient", "ambient", "ambient", "ambient",
  "bolu", "bolu", "bolu", "bolu", "bolu", "bolu", "bolu", "bolu",
  "ege", "ege", "ege", "ege", "ege", "ege", "ege", "ege"];
var legend = svg.append("g");
var rows = legend.selectAll("g").data(legendLabels).enter().append("g")
  .attr("transform", function(d, i) { return "translate(0," + (52 + i * 18.2) + ")"; });
rows.append("line").attr("x1", 883).attr("x2", 920).attr("y1", 0).attr("y2", 0)
  .attr("stroke", function(d, i) { return colors[legendGroups[i]]; }).attr("stroke-width", 1);
rows.append("text").attr("x", 923).attr("dy", "0.36em").attr("font-size", 11.5)
  .attr("fill", "#111").style("white-space", "pre").text(function(d) { return d; });
</script>
</body>
</html>
